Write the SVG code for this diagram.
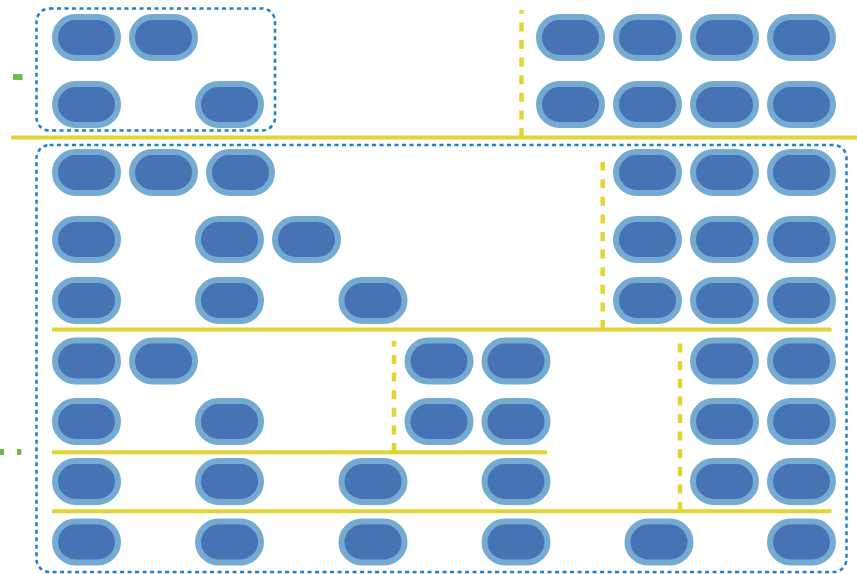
<svg xmlns="http://www.w3.org/2000/svg" xmlns:xlink="http://www.w3.org/1999/xlink" width="857" height="574" viewBox="0 0 857 574">
<style>
.pill{fill:#4573b4;stroke:#75abd2;stroke-width:6}
.grp{fill:none;stroke:#1b80d3;stroke-width:2.5;stroke-dasharray:4 3.5}
.sol{stroke:#e3d333;stroke-width:4;fill:none}
.dsh{stroke:#e3d333;stroke-width:4.5;fill:none;stroke-dasharray:9 8.6}
.grn{fill:#6dbd45}
</style>
<defs>
<rect id="p" x="3" y="3" width="63" height="41" rx="20.5" class="pill"/>
</defs>
<rect width="857" height="574" fill="#ffffff"/>
<g id="groups">
<rect class="grp" x="36.5" y="8.5" width="238.5" height="122" rx="13"/>
<rect class="grp" x="36.5" y="145" width="810" height="427" rx="13"/>
</g>
<g id="marks">
<rect class="grn" x="13" y="74" width="9.5" height="6"/>
<rect class="grn" x="0" y="449" width="4" height="6"/>
<rect class="grn" x="17" y="449" width="4.3" height="6"/>
</g>
<g id="connectors">
<line class="sol" x1="11" y1="137.5" x2="857" y2="137.5"/>
<line class="dsh" x1="521.5" y1="137" x2="521.5" y2="10"/>
<line class="sol" x1="52" y1="329.5" x2="831.5" y2="329.5"/>
<line class="dsh" x1="602.7" y1="329" x2="602.7" y2="162"/>
<line class="sol" x1="52" y1="452.3" x2="547" y2="452.3"/>
<line class="dsh" x1="394" y1="452" x2="394" y2="341"/>
<line class="sol" x1="52" y1="511.2" x2="831.5" y2="511.2"/>
<line class="dsh" x1="680" y1="511" x2="680" y2="342"/>
</g>
<g id="n1"><use xlink:href="#p" x="52" y="14"/></g>
<g id="n2"><use xlink:href="#p" x="129" y="14"/></g>
<g id="n3"><use xlink:href="#p" x="536" y="14"/></g>
<g id="n4"><use xlink:href="#p" x="613" y="14"/></g>
<g id="n5"><use xlink:href="#p" x="690" y="14"/></g>
<g id="n6"><use xlink:href="#p" x="767" y="14"/></g>
<g id="n7"><use xlink:href="#p" x="52" y="81"/></g>
<g id="n8"><use xlink:href="#p" x="195" y="81"/></g>
<g id="n9"><use xlink:href="#p" x="536" y="81"/></g>
<g id="n10"><use xlink:href="#p" x="613" y="81"/></g>
<g id="n11"><use xlink:href="#p" x="690" y="81"/></g>
<g id="n12"><use xlink:href="#p" x="767" y="81"/></g>
<g id="n13"><use xlink:href="#p" x="52" y="149"/></g>
<g id="n14"><use xlink:href="#p" x="129" y="149"/></g>
<g id="n15"><use xlink:href="#p" x="206" y="149"/></g>
<g id="n16"><use xlink:href="#p" x="613" y="149"/></g>
<g id="n17"><use xlink:href="#p" x="690" y="149"/></g>
<g id="n18"><use xlink:href="#p" x="767" y="149"/></g>
<g id="n19"><use xlink:href="#p" x="52" y="216"/></g>
<g id="n20"><use xlink:href="#p" x="195" y="216"/></g>
<g id="n21"><use xlink:href="#p" x="272" y="216"/></g>
<g id="n22"><use xlink:href="#p" x="613" y="216"/></g>
<g id="n23"><use xlink:href="#p" x="690" y="216"/></g>
<g id="n24"><use xlink:href="#p" x="767" y="216"/></g>
<g id="n25"><use xlink:href="#p" x="52" y="277"/></g>
<g id="n26"><use xlink:href="#p" x="195" y="277"/></g>
<g id="n27"><use xlink:href="#p" x="338.5" y="277"/></g>
<g id="n28"><use xlink:href="#p" x="613" y="277"/></g>
<g id="n29"><use xlink:href="#p" x="690" y="277"/></g>
<g id="n30"><use xlink:href="#p" x="767" y="277"/></g>
<g id="n31"><use xlink:href="#p" x="52" y="337.5"/></g>
<g id="n32"><use xlink:href="#p" x="129" y="337.5"/></g>
<g id="n33"><use xlink:href="#p" x="404.5" y="337.5"/></g>
<g id="n34"><use xlink:href="#p" x="481.5" y="337.5"/></g>
<g id="n35"><use xlink:href="#p" x="690" y="337.5"/></g>
<g id="n36"><use xlink:href="#p" x="767" y="337.5"/></g>
<g id="n37"><use xlink:href="#p" x="52" y="398"/></g>
<g id="n38"><use xlink:href="#p" x="195" y="398"/></g>
<g id="n39"><use xlink:href="#p" x="404.5" y="398"/></g>
<g id="n40"><use xlink:href="#p" x="481.5" y="398"/></g>
<g id="n41"><use xlink:href="#p" x="690" y="398"/></g>
<g id="n42"><use xlink:href="#p" x="767" y="398"/></g>
<g id="n43"><use xlink:href="#p" x="52" y="458"/></g>
<g id="n44"><use xlink:href="#p" x="195" y="458"/></g>
<g id="n45"><use xlink:href="#p" x="338.5" y="458"/></g>
<g id="n46"><use xlink:href="#p" x="481.5" y="458"/></g>
<g id="n47"><use xlink:href="#p" x="690" y="458"/></g>
<g id="n48"><use xlink:href="#p" x="767" y="458"/></g>
<g id="n49"><use xlink:href="#p" x="52" y="518.5"/></g>
<g id="n50"><use xlink:href="#p" x="195" y="518.5"/></g>
<g id="n51"><use xlink:href="#p" x="338.5" y="518.5"/></g>
<g id="n52"><use xlink:href="#p" x="481.5" y="518.5"/></g>
<g id="n53"><use xlink:href="#p" x="624.5" y="518.5"/></g>
<g id="n54"><use xlink:href="#p" x="767" y="518.5"/></g>
</svg>
